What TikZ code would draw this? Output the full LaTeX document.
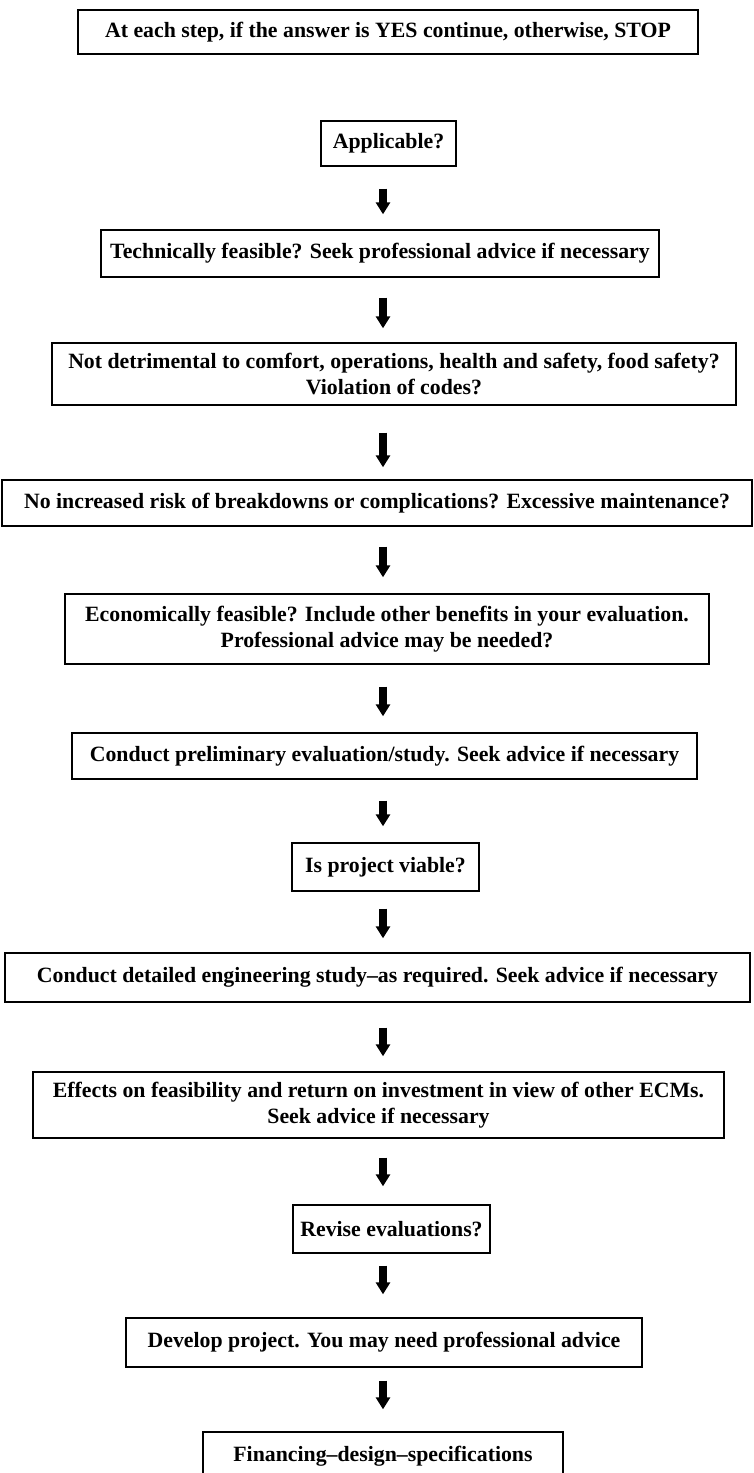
\documentclass[tikz,border=0pt]{standalone}
\usepackage{fontspec}
\setmainfont{Liberation Serif}
\usetikzlibrary{arrows.meta}
\begin{document}
\begin{tikzpicture}[x=1pt,y=1pt,
  stepbox/.style={draw=black, line width=1.4pt, rectangle, align=center,
    inner sep=0pt, font=\fontsize{21.8}{25.5}\selectfont\bfseries},
  flowarrow/.style={line width=7.5pt, -{Triangle[width=14pt,length=12pt]}}]
\useasboundingbox (0,0) rectangle (754,-1473);
\clip (0,0) rectangle (754,-1473);

% boxes of the decision chain, top to bottom
\node[stepbox, minimum width=620pt, minimum height=44pt] (rule) at (388,-32)
  {At each step, if the answer is YES continue, otherwise, STOP};
\node[stepbox, minimum width=135pt, minimum height=45pt] (appl) at (388.5,-143.5)
  {Applicable?};
\node[stepbox, minimum width=558pt, minimum height=47pt] (tech) at (380,-253.5)
  {Technically feasible? Seek professional advice if necessary};
\node[stepbox, minimum width=684pt, minimum height=62pt] (detr) at (394,-374)
  {Not detrimental to comfort, operations, health and safety, food safety?\\Violation of codes?};
\node[stepbox, minimum width=750pt, minimum height=46pt] (risk) at (377,-503)
  {No increased risk of breakdowns or complications? Excessive maintenance?};
\node[stepbox, minimum width=644pt, minimum height=70pt] (econ) at (387,-629)
  {Economically feasible? Include other benefits in your evaluation.\\Professional advice may be needed?};
\node[stepbox, minimum width=625pt, minimum height=46pt] (prel) at (384.5,-756)
  {Conduct preliminary evaluation/study. Seek advice if necessary};
\node[stepbox, minimum width=187pt, minimum height=48pt] (viab) at (385.5,-867)
  {Is project viable?};
\node[stepbox, minimum width=745pt, minimum height=49pt] (engi) at (377.5,-977.5)
  {Conduct detailed engineering study--as required. Seek advice if necessary};
\node[stepbox, minimum width=691pt, minimum height=66pt] (effe) at (378.5,-1105)
  {Effects on feasibility and return on investment in view of other ECMs.\\Seek advice if necessary};
\node[stepbox, minimum width=197pt, minimum height=48pt] (revi) at (391.5,-1229)
  {Revise evaluations?};
\node[stepbox, minimum width=516pt, minimum height=49pt] (deve) at (384,-1342.5)
  {Develop project. You may need professional advice};
\node[stepbox, minimum width=360pt, minimum height=48pt] (fina) at (383,-1456)
  {Financing--design--specifications};

% common vertical axis of the arrows
\coordinate (ax) at (383,0);

\draw[flowarrow, shorten <=22pt, shorten >=15pt] (appl.south -| ax) -- (tech.north -| ax);
\draw[flowarrow, shorten <=20pt, shorten >=14pt] (tech.south -| ax) -- (detr.north -| ax);
\draw[flowarrow, shorten <=27pt, shorten >=12pt] (detr.south -| ax) -- (risk.north -| ax);
\draw[flowarrow, shorten <=20pt, shorten >=16pt] (risk.south -| ax) -- (econ.north -| ax);
\draw[flowarrow, shorten <=22pt, shorten >=16pt] (econ.south -| ax) -- (prel.north -| ax);
\draw[flowarrow, shorten <=21pt, shorten >=16pt] (prel.south -| ax) -- (viab.north -| ax);
\draw[flowarrow, shorten <=17pt, shorten >=14pt] (viab.south -| ax) -- (engi.north -| ax);
\draw[flowarrow, shorten <=25pt, shorten >=15pt] (engi.south -| ax) -- (effe.north -| ax);
\draw[flowarrow, shorten <=19pt, shorten >=18pt] (effe.south -| ax) -- (revi.north -| ax);
\draw[flowarrow, shorten <=12pt, shorten >=23pt] (revi.south -| ax) -- (deve.north -| ax);
\draw[flowarrow, shorten <=13pt, shorten >=22pt] (deve.south -| ax) -- (fina.north -| ax);
\end{tikzpicture}
\end{document}
